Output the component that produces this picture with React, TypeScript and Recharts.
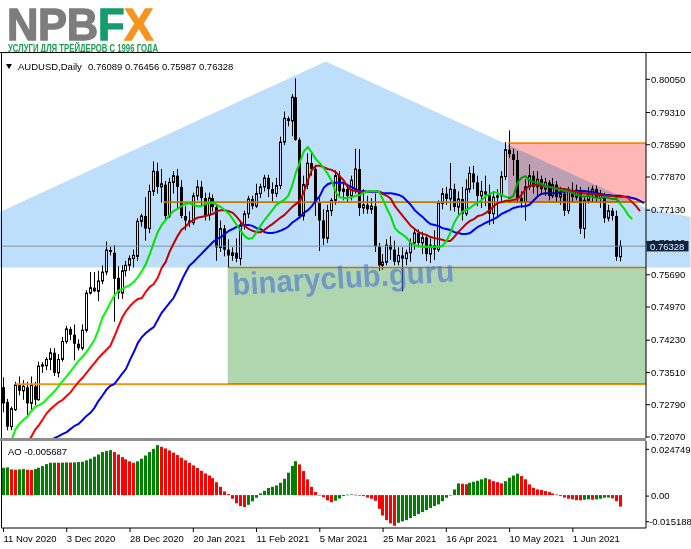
import React from 'react';
import { ComposedChart, Bar, Line, XAxis, YAxis, ReferenceArea, ReferenceLine } from 'recharts';

const FONT = '"Liberation Sans", Arial, sans-serif';
const W = 691;

// ---------------- data ----------------
const openPrices = [0.7318,0.7285,0.7230,0.7268,0.7323,0.7310,0.7318,0.7282,0.7320,0.7290,
0.7365,0.7366,0.7380,0.7395,0.7350,0.7380,0.7420,0.7448,0.7435,0.7415,
0.7405,0.7445,0.7528,0.7540,0.7532,0.7555,0.7575,0.7624,0.7618,0.7562,
0.7528,0.7578,0.7590,0.7605,0.7610,0.7688,0.7700,0.7672,0.7755,0.7800,
0.7765,0.7770,0.7700,0.7775,0.7790,0.7765,0.7700,0.7690,0.7685,0.7745,
0.7765,0.7740,0.7702,0.7740,0.7720,0.7630,0.7672,0.7625,0.7612,0.7618,
0.7605,0.7680,0.7705,0.7738,0.7722,0.7750,0.7765,0.7785,0.7760,0.7750,
0.7768,0.7865,0.7918,0.7912,0.7965,0.7870,0.7700,0.7770,0.7818,0.7805,
0.7730,0.7690,0.7650,0.7712,0.7735,0.7790,0.7755,0.7760,0.7745,0.7760,
0.7805,0.7718,0.7725,0.7715,0.7722,0.7632,0.7590,0.7597,0.7635,0.7625,
0.7598,0.7612,0.7605,0.7618,0.7640,0.7662,0.7640,0.7652,0.7615,0.7635,
0.7625,0.7728,0.7750,0.7738,0.7760,0.7720,0.7738,0.7705,0.7760,0.7795,
0.7775,0.7745,0.7755,0.7748,0.7705,0.7742,0.7745,0.7788,0.7848,0.7838,
0.7825,0.7740,0.7730,0.7765,0.7790,0.7765,0.7782,0.7760,0.7775,0.7745,
0.7770,0.7742,0.7750,0.7712,0.7755,0.7742,0.7758,0.7672,0.7735,0.7748,
0.7760,0.7740,0.7748,0.7695,0.7712,0.7700,0.76089];

const highPrices = [0.7340,0.7292,0.7275,0.7330,0.7342,0.7334,0.7330,0.7342,0.7330,0.7375,
0.7374,0.7385,0.7405,0.7405,0.7392,0.7430,0.7455,0.7453,0.7458,0.7425,
0.7458,0.7534,0.7575,0.7575,0.7578,0.7590,0.7643,0.7632,0.7635,0.7588,
0.7590,0.7600,0.7612,0.7625,0.7695,0.7705,0.7742,0.7770,0.7822,0.7819,
0.7805,0.7778,0.7785,0.7800,0.7805,0.7780,0.7722,0.7710,0.7752,0.7780,
0.7778,0.7752,0.7752,0.7748,0.7725,0.7690,0.7680,0.7648,0.7630,0.7650,
0.7690,0.7712,0.7745,0.7745,0.7772,0.7772,0.7792,0.7792,0.7775,0.7785,
0.7877,0.7933,0.7922,0.7972,0.8007,0.7875,0.7790,0.7840,0.7840,0.7812,
0.7740,0.7715,0.7725,0.7740,0.7802,0.7800,0.7775,0.7772,0.7790,0.7850,
0.7849,0.7760,0.7745,0.7740,0.7750,0.7640,0.7615,0.7648,0.7655,0.7645,
0.7630,0.7630,0.7625,0.7650,0.7672,0.7670,0.7665,0.7660,0.7650,0.7668,
0.7735,0.7762,0.7765,0.7818,0.7772,0.7755,0.7765,0.7782,0.7810,0.7812,
0.7790,0.7778,0.7790,0.7770,0.7752,0.7760,0.7800,0.7865,0.7891,0.7850,
0.7845,0.7755,0.7782,0.7815,0.7800,0.7800,0.7790,0.7785,0.7780,0.7785,
0.7778,0.7765,0.7760,0.7765,0.7775,0.7770,0.7765,0.7745,0.7765,0.7768,
0.7768,0.7758,0.7752,0.7725,0.7718,0.7712,0.76456];

const lowPrices = [0.7262,0.7222,0.7222,0.7265,0.7300,0.7290,0.7253,0.7265,0.7278,0.7288,
0.7350,0.7356,0.7356,0.7343,0.7340,0.7375,0.7415,0.7423,0.7378,0.7400,
0.7400,0.7440,0.7525,0.7530,0.7510,0.7548,0.7568,0.7612,0.7464,0.7515,
0.7515,0.7565,0.7578,0.7585,0.7600,0.7676,0.7645,0.7662,0.7745,0.7750,
0.7730,0.7690,0.7695,0.7750,0.7715,0.7695,0.7668,0.7675,0.7680,0.7735,
0.7722,0.7690,0.7690,0.7710,0.7600,0.7620,0.7610,0.7584,0.7600,0.7597,
0.7590,0.7670,0.7695,0.7715,0.7718,0.7740,0.7755,0.7742,0.7732,0.7742,
0.7760,0.7858,0.7900,0.7878,0.7868,0.7695,0.7690,0.7760,0.7790,0.7700,
0.7622,0.7635,0.7640,0.7700,0.7725,0.7742,0.7735,0.7730,0.7735,0.7750,
0.7700,0.7705,0.7705,0.7705,0.7620,0.7578,0.7580,0.7590,0.7602,0.7590,
0.7590,0.7532,0.7590,0.7598,0.7625,0.7630,0.7615,0.7600,0.7595,0.7602,
0.7620,0.7715,0.7725,0.7712,0.7710,0.7700,0.7690,0.7700,0.7752,0.7760,
0.7722,0.7718,0.7722,0.7680,0.7682,0.7700,0.7730,0.7780,0.7830,0.7790,
0.7730,0.7718,0.7690,0.7758,0.7750,0.7742,0.7750,0.7745,0.7735,0.7740,
0.7730,0.7725,0.7700,0.7705,0.7730,0.7735,0.7660,0.7650,0.7728,0.7732,
0.7730,0.7718,0.7685,0.7688,0.7690,0.7600,0.75987];

const closePrices = [0.7282,0.7230,0.7270,0.7323,0.7310,0.7320,0.7282,0.7323,0.7290,0.7365,
0.7368,0.7380,0.7395,0.7350,0.7380,0.7420,0.7448,0.7435,0.7415,0.7405,
0.7445,0.7528,0.7540,0.7532,0.7555,0.7575,0.7624,0.7620,0.7560,0.7528,
0.7578,0.7590,0.7605,0.7612,0.7688,0.7700,0.7672,0.7755,0.7800,0.7765,
0.7772,0.7700,0.7775,0.7790,0.7765,0.7700,0.7690,0.7685,0.7745,0.7765,
0.7740,0.7702,0.7740,0.7720,0.7630,0.7672,0.7625,0.7612,0.7618,0.7605,
0.7680,0.7705,0.7738,0.7722,0.7750,0.7765,0.7785,0.7760,0.7750,0.7768,
0.7865,0.7918,0.7912,0.7965,0.7870,0.7700,0.7770,0.7818,0.7805,0.7730,
0.7690,0.7650,0.7712,0.7735,0.7790,0.7755,0.7760,0.7745,0.7780,0.7805,
0.7718,0.7725,0.7715,0.7722,0.7632,0.7590,0.7597,0.7635,0.7625,0.7598,
0.7612,0.7605,0.7618,0.7640,0.7662,0.7640,0.7652,0.7615,0.7635,0.7625,
0.7728,0.7750,0.7738,0.7760,0.7720,0.7738,0.7705,0.7760,0.7795,0.7775,
0.7745,0.7755,0.7748,0.7705,0.7742,0.7745,0.7788,0.7848,0.7838,0.7825,
0.7740,0.7730,0.7765,0.7790,0.7765,0.7782,0.7760,0.7775,0.7745,0.7770,
0.7742,0.7750,0.7712,0.7755,0.7742,0.7758,0.7672,0.7735,0.7748,0.7760,
0.7740,0.7748,0.7695,0.7712,0.7700,0.7609,0.76328];

// Alligator lines (jaw = blue, teeth = red, lips = green), shifted into the future
const jawLine = [0.7067,0.7075,0.7084,0.7093,0.7102,0.7113,0.7125,0.7136,0.7149,0.7162,
0.7176,0.7189,0.7200,0.7205,0.7209,0.7214,0.7218,0.7225,0.7232,0.7236,
0.7245,0.7254,0.7261,0.7272,0.7287,0.7299,0.7312,0.7321,0.7325,0.7336,
0.7348,0.7359,0.7379,0.7397,0.7417,0.7430,0.7439,0.7446,0.7452,0.7468,
0.7484,0.7495,0.7506,0.7517,0.7535,0.7555,0.7573,0.7589,0.7597,0.7606,
0.7615,0.7624,0.7633,0.7642,0.7649,0.7653,0.7660,0.7667,0.7671,0.7676,
0.7678,0.7680,0.7680,0.7678,0.7673,0.7671,0.7664,0.7662,0.7662,0.7664,
0.7667,0.7671,0.7676,0.7685,0.7691,0.7698,0.7707,0.7713,0.7722,0.7734,
0.7745,0.7763,0.7771,0.7774,0.7774,0.7774,0.7774,0.7769,0.7765,0.7760,
0.7756,0.7755,0.7754,0.7754,0.7754,0.7754,0.7751,0.7751,0.7751,0.7749,
0.7747,0.7743,0.7734,0.7725,0.7713,0.7705,0.7698,0.7689,0.7682,0.7680,
0.7678,0.7673,0.7671,0.7669,0.7664,0.7662,0.7660,0.7660,0.7662,0.7669,
0.7676,0.7680,0.7685,0.7689,0.7693,0.7698,0.7705,0.7709,0.7713,0.7718,
0.7720,0.7722,0.7722,0.7725,0.7734,0.7743,0.7749,0.7751,0.7751,0.7751,
0.7751,0.7754,0.7754,0.7756,0.7756,0.7756,0.7756,0.7756,0.7754,0.7754,
0.7751,0.7749,0.7747,0.7747,0.7745,0.7745,0.7745,0.7743,0.7743,0.7740,
0.7738,0.7734,0.7729];

const teethLine = [0.7133,0.7145,0.7156,0.7167,0.7178,0.7187,0.7196,0.7207,0.7223,0.7234,
0.7247,0.7261,0.7270,0.7278,0.7285,0.7290,0.7299,0.7307,0.7319,0.7330,
0.7339,0.7350,0.7361,0.7372,0.7383,0.7392,0.7401,0.7410,0.7430,0.7452,
0.7473,0.7488,0.7499,0.7508,0.7515,0.7517,0.7531,0.7542,0.7548,0.7562,
0.7584,0.7597,0.7620,0.7638,0.7655,0.7669,0.7676,0.7685,0.7691,0.7696,
0.7698,0.7700,0.7702,0.7705,0.7711,0.7713,0.7713,0.7711,0.7707,0.7698,
0.7687,0.7678,0.7671,0.7667,0.7664,0.7664,0.7669,0.7676,0.7682,0.7689,
0.7696,0.7702,0.7711,0.7720,0.7727,0.7734,0.7754,0.7780,0.7803,0.7812,
0.7812,0.7809,0.7805,0.7803,0.7798,0.7789,0.7780,0.7765,0.7758,0.7756,
0.7754,0.7754,0.7754,0.7756,0.7756,0.7754,0.7749,0.7745,0.7738,0.7722,
0.7711,0.7700,0.7689,0.7678,0.7671,0.7664,0.7660,0.7658,0.7653,0.7651,
0.7649,0.7647,0.7644,0.7644,0.7653,0.7664,0.7673,0.7682,0.7689,0.7693,
0.7700,0.7702,0.7707,0.7713,0.7722,0.7729,0.7731,0.7734,0.7734,0.7736,
0.7738,0.7747,0.7760,0.7767,0.7769,0.7769,0.7767,0.7767,0.7765,0.7763,
0.7763,0.7760,0.7760,0.7758,0.7756,0.7754,0.7751,0.7751,0.7749,0.7749,
0.7747,0.7747,0.7745,0.7745,0.7745,0.7743,0.7743,0.7743,0.7740,0.7731,
0.7722,0.7711];

const lipsLine = [0.7167,0.7183,0.7200,0.7223,0.7236,0.7245,0.7252,0.7265,0.7274,0.7278,
0.7283,0.7292,0.7301,0.7310,0.7321,0.7332,0.7343,0.7354,0.7365,0.7377,
0.7386,0.7397,0.7410,0.7423,0.7446,0.7473,0.7488,0.7506,0.7522,0.7533,
0.7537,0.7542,0.7546,0.7553,0.7564,0.7577,0.7593,0.7615,0.7640,0.7664,
0.7680,0.7691,0.7702,0.7711,0.7716,0.7722,0.7727,0.7729,0.7725,0.7722,
0.7722,0.7727,0.7729,0.7729,0.7725,0.7720,0.7713,0.7705,0.7693,0.7680,
0.7667,0.7655,0.7649,0.7651,0.7664,0.7678,0.7691,0.7702,0.7713,0.7725,
0.7731,0.7736,0.7745,0.7767,0.7798,0.7821,0.7845,0.7854,0.7841,0.7827,
0.7818,0.7807,0.7794,0.7778,0.7754,0.7742,0.7740,0.7740,0.7742,0.7745,
0.7747,0.7751,0.7754,0.7756,0.7756,0.7754,0.7736,0.7716,0.7698,0.7673,
0.7664,0.7658,0.7651,0.7640,0.7635,0.7633,0.7631,0.7631,0.7631,0.7631,
0.7631,0.7633,0.7644,0.7662,0.7685,0.7700,0.7709,0.7714,0.7718,0.7725,
0.7729,0.7736,0.7745,0.7749,0.7754,0.7751,0.7747,0.7743,0.7740,0.7745,
0.7774,0.7785,0.7789,0.7780,0.7776,0.7774,0.7772,0.7767,0.7765,0.7763,
0.7760,0.7758,0.7756,0.7754,0.7751,0.7747,0.7745,0.7743,0.7745,0.7743,
0.7740,0.7740,0.7743,0.7740,0.7738,0.7738,0.7727,0.7716,0.7702,0.7693];

// Awesome Oscillator
const aoValues = [0.01353,0.01370,0.01271,0.01254,0.01271,0.01287,0.01254,0.01238,0.01287,0.01353,
0.01436,0.01535,0.01601,0.01605,0.01602,0.01610,0.01615,0.01612,0.01620,0.01635,
0.01650,0.01720,0.01800,0.01900,0.02010,0.02130,0.02190,0.02230,0.02130,0.02010,
0.01880,0.01770,0.01670,0.01600,0.01670,0.01800,0.01960,0.02130,0.02290,0.024749,
0.02390,0.02310,0.02210,0.02100,0.01980,0.01850,0.01720,0.01600,0.01470,0.01340,
0.01200,0.01070,0.00970,0.00840,0.00640,0.00410,0.00180,0.00050,-0.00180,-0.00410,
-0.00540,-0.00590,-0.00480,-0.00310,-0.00130,0.00080,0.00210,0.00350,0.00410,0.00480,
0.00610,0.00810,0.01110,0.01440,0.01680,0.01520,0.01190,0.00780,0.00410,0.00150,
0.00010,-0.00100,-0.00260,-0.00350,-0.00280,-0.00170,-0.00050,0.00020,0.00030,0.00020,
-0.00005,-0.00050,-0.00120,-0.00180,-0.00280,-0.00680,-0.01010,-0.01240,-0.01400,-0.015188,
-0.01370,-0.01300,-0.01240,-0.01140,-0.01040,-0.00940,-0.00840,-0.00740,-0.00640,-0.00540,
-0.00460,-0.00300,-0.00130,0.00010,0.00280,0.00580,0.00560,0.00540,0.00610,0.00660,
0.00710,0.00780,0.00840,0.00780,0.00690,0.00640,0.00580,0.00690,0.00860,0.00970,
0.01060,0.00940,0.00780,0.00530,0.00360,0.00280,0.00250,0.00200,0.00150,0.00080,
0.00030,-0.00050,-0.00120,-0.00180,-0.00210,-0.00250,-0.00260,-0.00230,-0.00210,-0.00230,
-0.00210,-0.00180,-0.00130,-0.00120,-0.00165,-0.00300,-0.005687];

const dateTickBars = [0, 16, 32, 48, 64, 80, 96, 112, 128, 144];
const dateTickLabels = ['11 Nov 2020', '3 Dec 2020', '28 Dec 2020', '20 Jan 2021', '11 Feb 2021',
  '5 Mar 2021', '25 Mar 2021', '16 Apr 2021', '10 May 2021', '1 Jun 2021'];
const priceTicks = [0.8005, 0.7931, 0.7859, 0.7787, 0.7713, 0.7641, 0.7569, 0.7497, 0.7423, 0.7351, 0.7279, 0.7207];
const aoTicks = [0.024749, 0, -0.015188];
const aoTickLabels = ['0.024749', '0.00', '-0.015188'];

// analyst drawings (in data units: bar index, price)
const zonePolyX = [-0.88, -0.88, 81.5, 162.5, 173.75, 173.75];
const zonePolyY = [0.7585, 0.7709, 0.8045, 0.7718, 0.7698, 0.7585];
const sellZone = { x1: 127.6, x2: 162.5, y1: 0.7731, y2: 0.7863 };
const buyZone = { x1: 56.7, x2: 162.5, y1: 0.7325, y2: 0.7585 };
const levelStarts = [127.6, 40.5, 56.7, 3];
const levelPrices = [0.7863, 0.7731, 0.7585, 0.7325];

// ---------------- chart setup ----------------
const SLOT_COUNT = 163;
const xDomain: [number, number] = [-0.5, SLOT_COUNT - 0.5];
const priceDomain: [number, number] = [0.72047, 0.80637];
const aoDomain: [number, number] = [-0.01629, 0.02678];
const lastClose = closePrices[closePrices.length - 1];
const lastAo = aoValues[aoValues.length - 1];
const MAIN_H = 391;
const MAIN_MARGIN = { top: 1, right: 0, bottom: 5, left: 1.5 };

const rows = Array.from({ length: SLOT_COUNT }, (_, i) => {
  const has = i < closePrices.length;
  return {
    i,
    range: has ? [lowPrices[i], highPrices[i]] : null,
    o: has ? openPrices[i] : null,
    h: has ? highPrices[i] : null,
    l: has ? lowPrices[i] : null,
    c: has ? closePrices[i] : null,
    jaw: i < jawLine.length ? jawLine[i] : null,
    teeth: i < teethLine.length ? teethLine[i] : null,
    lips: i < lipsLine.length ? lipsLine[i] : null,
    ao: i < aoValues.length ? aoValues[i] : null,
    aoUp: i === 0 ? true : i < aoValues.length ? aoValues[i] > aoValues[i - 1] : false,
  };
});

// ---------------- shapes ----------------
const Candle = (props: any) => {
  const { x, y, width, height, payload } = props;
  if (!payload || payload.o == null || !Number.isFinite(y) || !Number.isFinite(height)) return <g />;
  const top = Math.min(y, y + height);
  const h = Math.abs(height);
  const span = payload.h - payload.l;
  const toY = (p: number) => (span > 0 ? top + ((payload.h - p) / span) * h : top);
  const cx = Math.round(x + width / 2 - 0.5) + 0.5;
  const yo = toY(payload.o);
  const yc = toY(payload.c);
  const bodyTop = Math.min(yo, yc);
  const bodyH = Math.max(Math.abs(yc - yo), 1);
  const bull = payload.c >= payload.o;
  return (
    <g>
      <line x1={cx} x2={cx} y1={top} y2={top + h} stroke="#000" strokeWidth={1} />
      {bull ? (
        <rect x={cx - 1} y={bodyTop} width={2} height={bodyH} fill="#fff" stroke="#000" strokeWidth={1} />
      ) : (
        <rect x={cx - 1.5} y={bodyTop} width={3} height={bodyH} fill="#000" />
      )}
    </g>
  );
};

const AoBar = (props: any) => {
  const { x, y, width, height, payload } = props;
  if (!payload || payload.ao == null || !Number.isFinite(y) || !Number.isFinite(height)) return <g />;
  const top = Math.min(y, y + height);
  const h = Math.max(Math.abs(height), 0.6);
  const cx = Math.round(x + width / 2 - 0.5) + 0.5;
  return <rect x={cx - 1.5} y={top} width={3} height={h} fill={payload.aoUp ? '#008000' : '#ff0000'} />;
};

const ZonePolygon = (props: any) => {
  const { x, y, width, height } = props;
  const xMin = Math.min(...zonePolyX);
  const xMax = Math.max(...zonePolyX);
  const yMin = Math.min(...zonePolyY);
  const yMax = Math.max(...zonePolyY);
  const pts = zonePolyX
    .map((vx, k) => {
      const px = x + ((vx - xMin) / (xMax - xMin)) * width;
      const py = y + ((yMax - zonePolyY[k]) / (yMax - yMin)) * height;
      return `${px},${py}`;
    })
    .join(' ');
  return <polygon points={pts} fill="#bddffb" style={{ mixBlendMode: 'multiply' }} />;
};

const makeZoneRect = (color: string) => (props: any) => (
  <rect x={props.x} y={props.y} width={props.width} height={props.height} fill={color} style={{ mixBlendMode: 'multiply' }} />
);
const SellRect = makeZoneRect('#ffb6b6');
const BuyRect = makeZoneRect('#b0d6af');

const PriceTick = (props: any) => {
  const { x, y, payload } = props;
  return (
    <text x={x - 1} y={y + 3.3} fontSize={9.5} fontFamily={FONT} fill="#000" textAnchor="start">
      {Number(payload.value).toFixed(5)}
    </text>
  );
};

const AoTick = (props: any) => {
  const { x, y, payload } = props;
  const v = Number(payload.value);
  const k = aoTicks.indexOf(v);
  const yy = y + (v > 0 ? 4.2 : v < 0 ? -4.1 : 1);
  return (
    <g>
      <line x1={646} x2={649} y1={yy} y2={yy} stroke="#000" />
      <text x={x + (v < 0 ? -2 : 0)} y={yy + 3.3} fontSize={9.5} fontFamily={FONT} fill="#000" textAnchor="start">
        {aoTickLabels[k]}
      </text>
    </g>
  );
};

const DateTick = (props: any) => {
  const { x, y, payload } = props;
  const k = dateTickBars.indexOf(Number(payload.value));
  return (
    <text x={x} y={y + 8} fontSize={9.5} fontFamily={FONT} fill="#000" textAnchor="start">
      {dateTickLabels[k]}
    </text>
  );
};

const PriceTag = (props: any) => {
  const { x, y, payload } = props;
  return (
    <g>
      <rect x={x + 0.5} y={y - 5.2} width={42} height={10.5} fill="#0c2440" />
      <text x={x + 4} y={y + 3.4} fontSize={9.5} fontFamily={FONT} fill="#e8f2fc" textAnchor="start">
        {Number(payload.value).toFixed(5)}
      </text>
    </g>
  );
};

export default function App() {
  return (
    <div style={{ position: 'absolute', left: 0, top: 0, width: W, height: 549, background: '#fff', overflow: 'hidden', fontFamily: FONT }}>
      {/* logo */}
      <svg style={{ position: 'absolute', left: 0, top: 0 }} width={W} height={52}>
        <text x={7} y={39.5} fontFamily={FONT} fontWeight="bold" fontSize={43.5} letterSpacing={-0.3} strokeWidth={1.3}>
          <tspan fill="#7d7d7d" stroke="#7d7d7d">NPB</tspan>
          <tspan fill="#139c6c" stroke="#139c6c">F</tspan>
          <tspan fill="#f7941d" stroke="#f7941d">X</tspan>
        </text>
        <text x={8} y={51.5} fontFamily={FONT} fontWeight="bold" fontSize={10} fill="#17a04e" textLength={150} lengthAdjust="spacingAndGlyphs">
          УСЛУГИ ДЛЯ ТРЕЙДЕРОВ С 1996 ГОДА
        </text>
      </svg>

      {/* main price chart */}
      <div style={{ position: 'absolute', left: 0, top: 52 }}>
        <ComposedChart width={W} height={MAIN_H} data={rows} margin={MAIN_MARGIN}>
          <XAxis type="number" dataKey="i" domain={xDomain} allowDataOverflow hide />
          <YAxis orientation="right" width={45} type="number" domain={priceDomain} allowDataOverflow ticks={priceTicks}
            interval={0} tickSize={4} tickMargin={2} axisLine={{ stroke: '#000' }} tickLine={{ stroke: '#000' }} tick={<PriceTick />} />
          <ReferenceLine y={lastClose} stroke="#a8a8a8" strokeWidth={1} />
          {levelPrices.map((p, k) => (
            <ReferenceLine key={k} segment={[{ x: levelStarts[k], y: p }, { x: xDomain[1], y: p }]} stroke="#ff8c00" strokeWidth={1.6} />
          ))}
          <Bar dataKey="range" shape={<Candle />} isAnimationActive={false} />
          <Line type="linear" dataKey="jaw" stroke="#0000ff" strokeWidth={2} dot={false} activeDot={false} isAnimationActive={false} />
          <Line type="linear" dataKey="teeth" stroke="#ff0000" strokeWidth={2} dot={false} activeDot={false} isAnimationActive={false} />
          <Line type="linear" dataKey="lips" stroke="#00ff00" strokeWidth={2} dot={false} activeDot={false} isAnimationActive={false} />
        </ComposedChart>
      </div>

      {/* AO sub-window */}
      <div style={{ position: 'absolute', left: 0, top: 441 }}>
        <ComposedChart width={W} height={108} data={rows} margin={{ top: 0, right: 0, bottom: 0, left: 1.5 }}>
          <XAxis type="number" dataKey="i" domain={xDomain} allowDataOverflow ticks={dateTickBars} interval={0} height={21}
            tickSize={4} tickMargin={2} axisLine={{ stroke: '#000' }} tickLine={{ stroke: '#000' }} tick={<DateTick />} />
          <YAxis orientation="right" width={45} type="number" domain={aoDomain} allowDataOverflow ticks={aoTicks} interval={0}
            tickSize={3} tickMargin={2} axisLine={{ stroke: '#000' }} tickLine={false} tick={<AoTick />} />
          <Bar dataKey="ao" shape={<AoBar />} isAnimationActive={false} />
        </ComposedChart>
      </div>

      {/* frame and captions */}
      <svg style={{ position: 'absolute', left: 0, top: 0, pointerEvents: 'none' }} width={W} height={549}>
        <line x1={0} x2={W} y1={52.5} y2={52.5} stroke="#000" />
        <line x1={1.5} x2={1.5} y1={52} y2={528} stroke="#000" />
        <rect x={0} y={438} width={646} height={3} fill="#8e8e8e" />
        <polygon points="6,64 12,64 9,69" fill="#000" />
        <text x={18} y={70} fontSize={9.5} fontFamily={FONT} fill="#000">AUDUSD,Daily</text>
        <text x={88} y={70} fontSize={9.5} fontFamily={FONT} fill="#000">
          {[openPrices, highPrices, lowPrices, closePrices].map((a) => a[a.length - 1].toFixed(5)).join(' ')}
        </text>
        <text x={8} y={455} fontSize={9.5} fontFamily={FONT} fill="#000">{`AO ${lastAo.toFixed(6)}`}</text>
      </svg>

      {/* analyst drawings, multiplied over the chart */}
      <div style={{ position: 'absolute', left: 0, top: 52, mixBlendMode: 'multiply', pointerEvents: 'none' }}>
        <ComposedChart width={W} height={MAIN_H} data={rows} margin={MAIN_MARGIN}>
          <XAxis type="number" dataKey="i" domain={xDomain} allowDataOverflow hide />
          <YAxis orientation="right" width={45} type="number" domain={priceDomain} allowDataOverflow tick={false} axisLine={false} tickLine={false} />
          <ReferenceArea x1={Math.min(...zonePolyX)} x2={Math.max(...zonePolyX)} y1={Math.min(...zonePolyY)} y2={Math.max(...zonePolyY)}
            ifOverflow="visible" shape={<ZonePolygon />} />
          <ReferenceArea x1={sellZone.x1} x2={sellZone.x2} y1={sellZone.y1} y2={sellZone.y2} ifOverflow="visible" shape={<SellRect />} />
          <ReferenceArea x1={buyZone.x1} x2={buyZone.x2} y1={buyZone.y1} y2={buyZone.y2} ifOverflow="visible" shape={<BuyRect />} />
        </ComposedChart>
      </div>

      {/* current price tag */}
      <div style={{ position: 'absolute', left: 0, top: 52, pointerEvents: 'none' }}>
        <ComposedChart width={W} height={MAIN_H} data={rows} margin={MAIN_MARGIN}>
          <XAxis type="number" dataKey="i" domain={xDomain} allowDataOverflow hide />
          <YAxis orientation="right" width={45} type="number" domain={priceDomain} allowDataOverflow ticks={[lastClose]} interval={0}
            tickSize={0} tickMargin={0} axisLine={false} tickLine={false} tick={<PriceTag />} />
        </ComposedChart>
      </div>

      {/* watermark */}
      <svg style={{ position: 'absolute', left: 0, top: 0, pointerEvents: 'none' }} width={W} height={549}>
        <text x={233} y={295} transform="rotate(-3.5 233 295)" fontSize={31} fontWeight="bold" fontFamily={FONT}
          fill="#4a70d6" fillOpacity={0.6} textLength={222} lengthAdjust="spacingAndGlyphs">
          binaryclub.guru
        </text>
      </svg>
    </div>
  );
}
